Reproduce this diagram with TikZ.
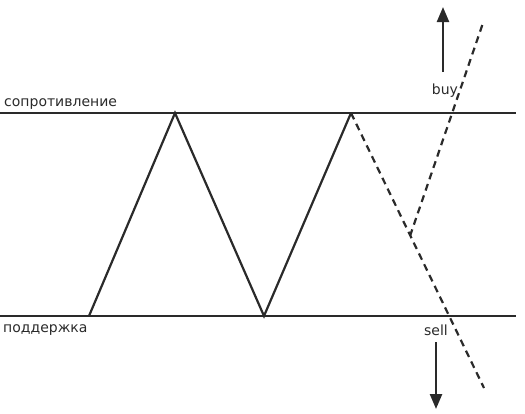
\documentclass[tikz,border=0pt]{standalone}
\usepackage{fontspec}
\setmainfont{DejaVu Sans}
\usetikzlibrary{arrows.meta}
\definecolor{ink}{HTML}{2A2A2A}
\tikzset{
  level/.style={draw=ink, line width=2.2pt},
  price/.style={draw=ink, line width=2.2pt, line join=miter},
  forecast/.style={draw=ink, line width=2.2pt, dash pattern=on 7pt off 5pt},
  signal/.style={draw=ink, line width=2.4pt, -{Triangle[width=12pt,length=15pt]}},
  lbl/.style={font=\fontsize{14}{17}\selectfont, text=ink, inner sep=0pt}
}
\begin{document}
\begin{tikzpicture}[x=1pt,y=-1pt]
\useasboundingbox (0,0) rectangle (525,413);
\coordinate (rl) at (0,113);
\coordinate (rr) at (516,113);
\coordinate (sl) at (0,316);
\coordinate (sr) at (516,316);
\coordinate (p0) at (89,316);
\coordinate (p1) at (175,113);
\coordinate (p2) at (264,316);
\coordinate (p3) at (351,113);
\coordinate (v) at (410,236);
\coordinate (dend) at (484,388);
\coordinate (uend) at (483,23);
\coordinate (ua) at (443,72);
\coordinate (ub) at (443,7);
\coordinate (da) at (436,342);
\coordinate (db) at (436,409);
\draw[level] (rl) -- (rr);
\draw[level] (sl) -- (sr);
\draw[price] (p0) -- (p1) -- (p2) -- (p3);
\draw[forecast] (p3) -- (dend);
\draw[forecast] (v) -- (uend);
\draw[signal] (ua) -- (ub);
\draw[signal] (da) -- (db);
\node[lbl, anchor=base west] (res) at (4,106) {сопротивление};
\node[lbl, anchor=base west] (sup) at (3,332) {поддержка};
\node[lbl, anchor=base] (buy) at (445,94) {buy};
\node[lbl, anchor=base] (sell) at (436,335) {sell};
\end{tikzpicture}
\end{document}
